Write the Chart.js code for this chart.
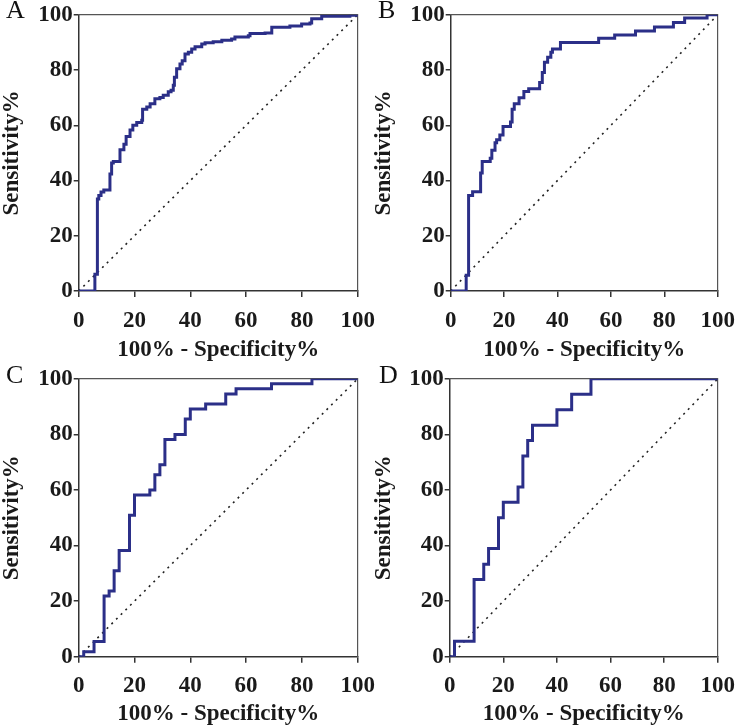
<!DOCTYPE html>
<html><head><meta charset="utf-8">
<script src="https://cdn.jsdelivr.net/npm/chart.js@4.4.1/dist/chart.umd.min.js"></script>
<style>
html,body{margin:0;padding:0;background:#fff;}
#wrap{position:relative;width:745px;height:728px;overflow:hidden;background:#fff;}
canvas{position:absolute;}
.letter{position:absolute;font-family:"Liberation Serif","Times New Roman",serif;font-size:26px;line-height:1;color:#111;}
</style></head>
<body><div id="wrap">
<canvas id="cA" width="390" height="364" style="left:0;top:0"></canvas>
<canvas id="cB" width="373" height="364" style="left:372px;top:0"></canvas>
<canvas id="cC" width="390" height="364" style="left:0;top:364px"></canvas>
<canvas id="cD" width="373" height="364" style="left:372px;top:364px"></canvas>
<div class="letter" style="left:6px;top:-3px">A</div>
<div class="letter" style="left:378px;top:-3px">B</div>
<div class="letter" style="left:6px;top:362px">C</div>
<div class="letter" style="left:379px;top:362px">D</div>
</div>
<script>
// ---- data ----
const panelLetters = ['A','B','C','D'];
const xTitle = '100% - Specificity%';
const yTitle = 'Sensitivity%';
const tickValues = [0,20,40,60,80,100];
const diagonalX = [0,100];
const diagonalY = [0,100];

const fprA = [0,5.8,6.7,7.2,8.0,9.0,11.2,11.8,12.4,14.8,16.2,17.0,18.4,19.4,20.8,22.6,22.9,24.4,25.6,27.3,29.1,30.3,32.1,33.1,33.9,34.3,35.1,36.3,37.1,38.1,39.3,40.5,41.7,44.1,45.3,48.2,51.3,54.8,56.0,60.8,61.4,66.8,69.2,75.7,79.9,82.9,83.5,87.1,97.2,99.6,100];
const sensA = [0,6.1,33.3,34.6,35.8,36.6,42.4,46.3,46.9,51.1,53.1,55.9,58.3,60.0,61.0,61.8,65.8,66.6,67.8,69.6,70.1,70.9,72.1,72.7,74.5,77.4,80.5,82.2,83.4,85.8,86.4,87.6,88.4,89.4,89.9,90.2,90.8,91.2,92.0,92.4,93.2,93.4,95.5,95.9,96.7,97.0,98.6,99.5,99.8,100,100];

const fprB = [0,5.8,6.7,8.2,11.2,11.8,14.8,15.4,16.6,17.2,18.4,19.6,22.4,23.0,23.8,25.6,27.4,29.2,33.3,34.3,35.1,36.3,37.5,38.1,41.1,55.4,61.4,69.2,76.3,83.4,87.6,96.0,100];
const sensB = [0,5.7,34.6,35.9,42.7,46.9,48.1,51.0,53.7,54.8,56.5,59.6,61.2,65.8,67.8,70.0,72.2,73.2,75.5,79.1,82.8,84.6,86.4,87.6,90.0,91.5,92.7,94.1,95.6,97.2,98.8,100,100];

const fprC = [0,1.8,5.5,9.1,10.9,12.7,14.5,18.2,20,25.5,27.3,29.1,30.9,34.5,38.2,40,45.5,52.7,56.4,69.1,83.6,100];
const sensC = [0,1.8,5.5,21.8,23.6,30.9,38.2,50.9,58.2,60,65.5,69.1,78.2,80,85.5,89.1,90.9,94.5,96.4,98.2,100,100];

const fprD = [0,1.8,9.1,12.7,14.5,18.2,20,25.5,27.3,29.1,30.9,40,45.5,52.7,100];
const sensD = [0,5.6,27.8,33.3,38.9,50,55.6,61.1,72.2,77.8,83.3,88.9,94.4,100,100];

// ---- layout (chart area in canvas px) ----
const panels = [
  {id:'cA', fpr:fprA, sens:sensA, W:390, H:364, L:78.7, T:11.7, R:357.7, B:291},
  {id:'cB', fpr:fprB, sens:sensB, W:373, H:364, L:78.7, T:11.7, R:357.7, B:291},
  {id:'cC', fpr:fprC, sens:sensC, W:390, H:364, L:78.7, T:14, R:357.7, B:292.7},
  {id:'cD', fpr:fprD, sens:sensD, W:373, H:364, L:77.7, T:14, R:356.7, B:292.7}
];

const FAM = '"Liberation Serif","Times New Roman",serif';
const AXC = '#333';
const CURVE = '#2b2f88';

function toPts(xs, ys){ return xs.map((x,i)=>({x:x, y:ys[i]})); }

panels.forEach(p=>{
  const tickFontX = {family:FAM, size:23, weight:'bold'};
  const tickFontY = {family:FAM, size:23, weight:'bold'};
  const titleFont = {family:FAM, size:23, weight:'bold', lineHeight:1};
  new Chart(document.getElementById(p.id), {
    type:'line',
    data:{datasets:[
      {data:toPts(p.fpr,p.sens), borderColor:CURVE, borderWidth:3, pointRadius:0, stepped:true, fill:false, tension:0, borderJoinStyle:'miter'},
      {data:toPts(diagonalX,diagonalY), borderColor:'#222', borderWidth:1.6, borderDash:[2,4.6], pointRadius:0, fill:false}
    ]},
    options:{
      responsive:false, animation:false, devicePixelRatio:1,
      layout:{autoPadding:false, padding:{left:0, top:p.T, right:p.W-p.R, bottom:0}},
      plugins:{legend:{display:false}, tooltip:{enabled:false}},
      scales:{
        x:{type:'linear', position:'bottom', min:0, max:100,
           afterBuildTicks: s=>{ s.ticks = tickValues.map(v=>({value:v})); },
           ticks:{font:tickFontX, color:'#1a1a1a', padding:10, maxRotation:0, autoSkip:false},
           grid:{drawOnChartArea:false, drawTicks:true, tickLength:6, color:AXC, lineWidth:1.5},
           border:{display:true, color:AXC, width:1.5},
           title:{display:true, text:xTitle, font:titleFont, color:'#1a1a1a', padding:{top:0,bottom:2}},
           afterFit: s=>{ s.height = p.H - p.B; }},
        y:{type:'linear', position:'left', min:0, max:100,
           afterBuildTicks: s=>{ s.ticks = tickValues.map(v=>({value:v})); },
           ticks:{font:tickFontY, color:'#1a1a1a', padding:1},
           grid:{drawOnChartArea:false, drawTicks:true, tickLength:5, color:AXC, lineWidth:1.5},
           border:{display:true, color:AXC, width:1.5},
           title:{display:true, text:yTitle, font:titleFont, color:'#1a1a1a', padding:{top:1,bottom:0}},
           afterFit: s=>{ s.width = p.L; }},
        x2:{type:'linear', position:'top', min:0, max:100,
            ticks:{display:false}, grid:{display:false, drawTicks:false},
            border:{display:true, color:'#555', width:1.2},
            afterFit: s=>{ s.height = 0; }},
        y2:{type:'linear', position:'right', min:0, max:100,
            ticks:{display:false}, grid:{display:false, drawTicks:false},
            border:{display:true, color:'#555', width:1.2},
            afterFit: s=>{ s.width = 0; }}
      }
    }
  });
});
</script>
</body></html>
